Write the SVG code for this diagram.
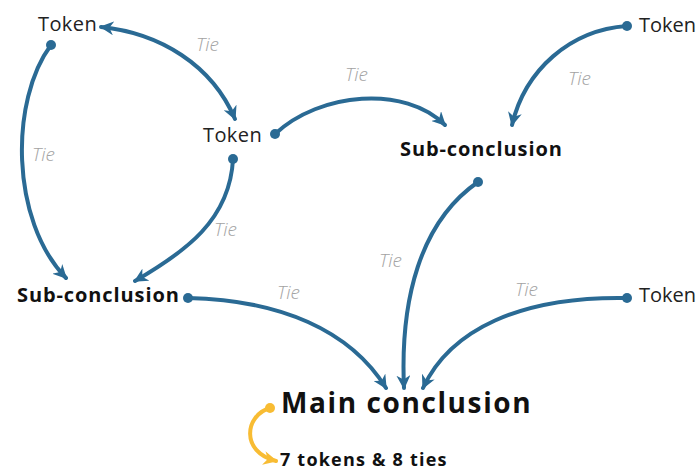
<svg xmlns="http://www.w3.org/2000/svg" width="699" height="470" viewBox="0 0 699 470">
<style>
.c{fill:none;stroke:#2A6A94;stroke-width:4;stroke-linecap:round}
.y{fill:none;stroke:#F8BC33;stroke-width:4;stroke-linecap:round}
.tok{font-family:"Open Sans",Lato,sans-serif;font-size:20px;letter-spacing:0.4px;fill:#222}
.tokr{font-family:"Open Sans",Lato,sans-serif;font-size:20px;fill:#222}
.sub{font-family:"Open Sans",Lato,sans-serif;font-size:20px;letter-spacing:0.9px;font-weight:bold;fill:#111}
.main{font-family:"Open Sans",Lato,sans-serif;font-size:28px;letter-spacing:1.6px;font-weight:bold;fill:#111}
.sum{font-family:"Open Sans",Lato,sans-serif;font-size:18px;letter-spacing:1.2px;font-weight:bold;fill:#111}
.tie{font-family:"Open Sans",Lato,sans-serif;font-size:19px;font-style:italic;font-weight:300;fill:#a3a3a3}
.dot{fill:#2A6A94}
</style>
<defs>
<marker id="ah" viewBox="0 0 10 10" refX="9" refY="5" markerWidth="14" markerHeight="14" markerUnits="userSpaceOnUse" orient="auto-start-reverse">
<path d="M0,0 L10,5 L0,10 L3,5 z" fill="#2A6A94"/>
</marker>
<marker id="ay" viewBox="0 0 10 10" refX="9" refY="5" markerWidth="14" markerHeight="14" markerUnits="userSpaceOnUse" orient="auto">
<path d="M0,0 L10,5 L0,10 L3,5 z" fill="#F8BC33"/>
</marker>
</defs>
<g id="connectors">
<path class="c" d="M101,27 C160,33 212,65 235,119" marker-start="url(#ah)" marker-end="url(#ah)"/>
<path class="c" d="M51,45 C10,100 10,220 66,278" marker-end="url(#ah)"/>
<path class="c" d="M233,159 C230,220 185,252 135,281" marker-end="url(#ah)"/>
<path class="c" d="M275,134 C320,92 405,85 445,125" marker-end="url(#ah)"/>
<path class="c" d="M627,26 C570,30 525,70 512,125" marker-end="url(#ah)"/>
<path class="c" d="M478,182 C420,222 400,300 404,388" marker-end="url(#ah)"/>
<path class="c" d="M188,298 C280,300 350,330 386,388" marker-end="url(#ah)"/>
<path class="c" d="M627,298 C520,296 450,330 423,388" marker-end="url(#ah)"/>
<path class="y" d="M270,408 C245,415 240,452 276,461" marker-end="url(#ay)"/>
<circle class="dot" cx="51" cy="45" r="5"/>
<circle class="dot" cx="233" cy="159" r="5"/>
<circle class="dot" cx="275" cy="134" r="5"/>
<circle class="dot" cx="627" cy="26" r="5"/>
<circle class="dot" cx="478" cy="182" r="5"/>
<circle class="dot" cx="188" cy="298" r="5"/>
<circle class="dot" cx="627" cy="298" r="5"/>
<circle cx="270" cy="408" r="5" fill="#F8BC33"/>
<text class="tie" x="196" y="51">Tie</text>
<text class="tie" x="32" y="161">Tie</text>
<text class="tie" x="214" y="236">Tie</text>
<text class="tie" x="345" y="81">Tie</text>
<text class="tie" x="568" y="85">Tie</text>
<text class="tie" x="379" y="267">Tie</text>
<text class="tie" x="277" y="299">Tie</text>
<text class="tie" x="515" y="296">Tie</text>
</g>
<g id="token1"><text class="tok" x="38" y="31">Token</text></g>
<g id="token2"><text class="tok" x="203" y="142">Token</text></g>
<g id="token3"><text class="tokr" x="639" y="32">Token</text></g>
<g id="token4"><text class="tokr" x="639" y="302">Token</text></g>
<g id="sub1"><text class="sub" x="400" y="156">Sub-conclusion</text></g>
<g id="sub2"><text class="sub" x="17" y="302">Sub-conclusion</text></g>
<g id="main"><text class="main" x="281" y="413">Main conclusion</text></g>
<g id="summary"><text class="sum" x="280" y="466">7 tokens &amp; 8 ties</text></g>
</svg>
